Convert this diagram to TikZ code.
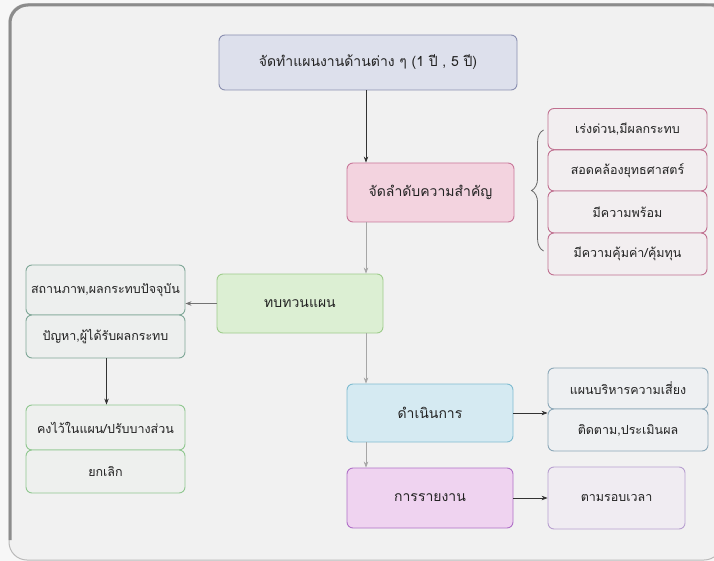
\documentclass[tikz,border=0pt]{standalone}
\usepackage{fontspec}
\newfontfamily\thaifont[Script=Thai]{Loma}
\usetikzlibrary{arrows.meta,decorations.pathreplacing}
\definecolor{bgc}{HTML}{F1F1F1}
\definecolor{framec}{HTML}{8C8C8C}
\definecolor{topf}{HTML}{DDE0EC}\definecolor{topd}{HTML}{8A8FB0}
\definecolor{prif}{HTML}{F3D3DF}\definecolor{prid}{HTML}{C9789A}
\definecolor{pkf}{HTML}{F2EEF0}\definecolor{pkd}{HTML}{C07090}
\definecolor{revf}{HTML}{DCEFD3}\definecolor{revd}{HTML}{9ECC8C}
\definecolor{stf}{HTML}{EDEFEE}\definecolor{std}{HTML}{80A898}
\definecolor{kpf}{HTML}{EEF0EE}\definecolor{kpd}{HTML}{90C890}
\definecolor{dof}{HTML}{D5EAF2}\definecolor{dod}{HTML}{80BCD0}
\definecolor{rkf}{HTML}{EEF0F2}\definecolor{rkd}{HTML}{8CA8B8}
\definecolor{repf}{HTML}{EFD3F0}\definecolor{repd}{HTML}{B070C8}
\definecolor{tmf}{HTML}{F0ECF2}\definecolor{tmd}{HTML}{B8A0D0}
\definecolor{txt}{HTML}{222222}
\tikzset{
  box/.style={rounded corners=6pt, line width=0.9pt, inner sep=0pt, text=txt, font=\thaifont\fontsize{14}{16}\selectfont, anchor=center},
  small/.style={box, font=\thaifont\fontsize{12.5}{14}\selectfont},
  arr/.style={-{Stealth[length=6pt,width=4.5pt]}, line width=0.6pt, draw=black!80},
  garr/.style={-{Stealth[length=6pt,width=4.5pt]}, line width=0.6pt, draw=black!35},
}
\begin{document}
\begin{tikzpicture}[x=1pt,y=-1pt]
\useasboundingbox (0,0) rectangle (714,561);
\fill[white!97!black] (0,0) rectangle (714,561);
\fill[bgc, rounded corners=18pt] (9,4) rectangle (722,560);
\draw[framec!60, line width=1pt, rounded corners=18pt] (9,4) rectangle (722,560);
\draw[framec, line width=3pt, rounded corners=18pt] (10,540) -- (10,5) -- (740,5);

% main column
\node[box, fill=topf, draw=topd, minimum width=298pt, minimum height=55pt] (top) at (368,62.5) {จัดทำแผนงานด้านต่าง ๆ (1 ปี , 5 ปี)};
\node[box, fill=prif, draw=prid, minimum width=167pt, minimum height=59pt] (prio) at (430.5,192.5) {จัดลำดับความสำคัญ};
\node[box, fill=revf, draw=revd, minimum width=166pt, minimum height=59pt] (review) at (300,303.5) {ทบทวนแผน};
\node[box, fill=dof, draw=dod, minimum width=166pt, minimum height=58pt] (do) at (430,413) {ดำเนินการ};
\node[box, fill=repf, draw=repd, minimum width=166pt, minimum height=60pt] (report) at (430,498) {การรายงาน};

% priority criteria
\node[small, fill=pkf, draw=pkd, minimum width=159pt, minimum height=41pt] (r1) at (627.5,129) {เร่งด่วน,มีผลกระทบ};
\node[small, fill=pkf, draw=pkd, minimum width=159pt, minimum height=41pt] (r2) at (627.5,170.5) {สอดคล้องยุทธศาสตร์};
\node[small, fill=pkf, draw=pkd, minimum width=159pt, minimum height=42pt] (r3) at (627.5,212) {มีความพร้อม};
\node[small, fill=pkf, draw=pkd, minimum width=159pt, minimum height=42pt] (r4) at (627.5,254) {มีความคุ้มค่า/คุ้มทุน};

% review outputs
\node[small, fill=stf, draw=std, minimum width=159pt, minimum height=50pt] (status) at (105.5,290) {สถานภาพ,ผลกระทบปัจจุบัน};
\node[small, fill=stf, draw=std, minimum width=159pt, minimum height=43pt] (issue) at (105.5,336.5) {ปัญหา,ผู้ได้รับผลกระทบ};
\node[small, fill=kpf, draw=kpd, minimum width=159pt, minimum height=45pt] (keep) at (105.5,427.5) {คงไว้ในแผน/ปรับบางส่วน};
\node[small, fill=kpf, draw=kpd, minimum width=159pt, minimum height=43pt] (cancel) at (105.5,471.5) {ยกเลิก};

% operation outputs
\node[small, fill=rkf, draw=rkd, minimum width=160pt, minimum height=41pt] (risk) at (628,388.5) {แผนบริหารความเสี่ยง};
\node[small, fill=rkf, draw=rkd, minimum width=160pt, minimum height=42pt] (follow) at (628,430) {ติดตาม,ประเมินผล};
\node[small, fill=tmf, draw=tmd, minimum width=137pt, minimum height=62pt] (time) at (616.5,498) {ตามรอบเวลา};

% connectors
\draw[arr] ([xshift=-2pt]top.south) -- ([xshift=-2pt]top.south |- prio.north);
\draw[garr] ([xshift=-2pt]top.south |- prio.south) -- ([xshift=-2pt]top.south |- review.north);
\draw[garr] ([xshift=-2pt]top.south |- review.south) -- ([xshift=-2pt]top.south |- do.north);
\draw[garr] ([xshift=-2pt]top.south |- do.south) -- ([xshift=-2pt]top.south |- report.north);
\draw[arr, draw=black!55] (review.west) -- (status.east |- review.west);
\draw[arr] ([xshift=1pt]issue.south) -- ([xshift=1pt]keep.north);
\draw[arr] (do.east) -- (follow.west |- do.east);
\draw[arr] (report.east) -- (time.west |- report.east);

% brace
\coordinate (bt) at ([xshift=-4pt,yshift=-1pt]r1.west);
\coordinate (bb) at ([xshift=-4pt,yshift=3pt]r4.west);
\draw[black!60, line width=0.8pt, decorate, decoration={brace, amplitude=12pt}] (bb) -- (bt);
\end{tikzpicture}
\end{document}
